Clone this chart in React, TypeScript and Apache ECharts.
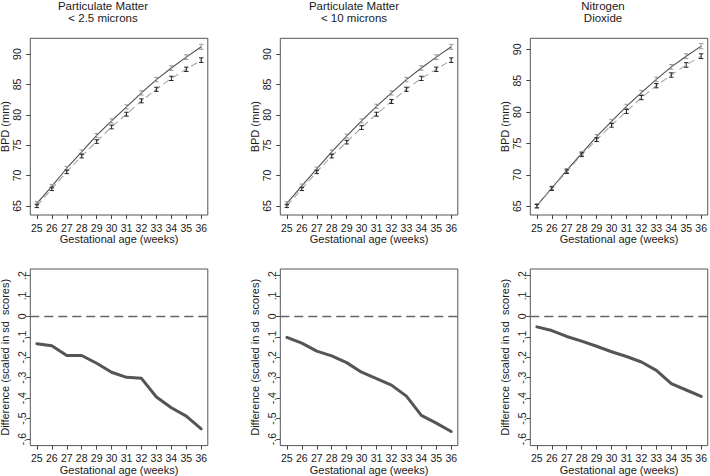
import React, { useEffect, useRef } from "react";
import * as echarts from "echarts";

const weeks = [25, 26, 27, 28, 29, 30, 31, 32, 33, 34, 35, 36];
const bpdTicks = [65, 70, 75, 80, 85, 90];
const diffTicks = [-0.6, -0.5, -0.4, -0.3, -0.2, -0.1, 0, 0.1, 0.2];

const titles = ["Particulate Matter\n< 2.5 microns", "Particulate Matter\n< 10 microns", "Nitrogen\nDioxide"];
const topYName = "BPD (mm)";
const botYName = "Difference (scaled in sd  scores)";
const xName = "Gestational age (weeks)";

const pm25Upper = [65.4, 68.2, 71.2, 73.9, 76.6, 79.0, 81.3, 83.6, 85.8, 87.7, 89.5, 91.2];
const pm25Lower = [65.0, 67.8, 70.6, 73.2, 75.6, 78.0, 80.1, 82.3, 84.2, 86.0, 87.5, 89.0];
const pm10Upper = [65.4, 68.3, 71.1, 73.9, 76.5, 79.0, 81.4, 83.6, 85.8, 87.7, 89.5, 91.2];
const pm10Lower = [65.0, 67.8, 70.6, 73.2, 75.5, 77.9, 80.1, 82.2, 84.2, 86.0, 87.5, 89.0];
const no2Upper = [65.1, 67.9, 70.7, 73.4, 76.1, 78.5, 80.9, 83.1, 85.2, 87.2, 88.9, 90.5];
const no2Lower = [65.0, 67.8, 70.5, 73.2, 75.6, 77.9, 80.1, 82.3, 84.2, 85.9, 87.5, 88.9];
const upperErr = [0.3, 0.3, 0.3, 0.32, 0.32, 0.33, 0.34, 0.35, 0.36, 0.37, 0.39, 0.41];
const lowerErr = [0.28, 0.28, 0.29, 0.3, 0.3, 0.31, 0.32, 0.33, 0.34, 0.35, 0.36, 0.38];

const pm25Diff = [-0.134, -0.144, -0.191, -0.191, -0.229, -0.273, -0.298, -0.303, -0.394, -0.447, -0.488, -0.55];
const pm10Diff = [-0.103, -0.131, -0.17, -0.193, -0.226, -0.273, -0.304, -0.336, -0.39, -0.484, -0.522, -0.563];
const no2Diff = [-0.051, -0.069, -0.098, -0.121, -0.146, -0.173, -0.196, -0.223, -0.264, -0.329, -0.36, -0.391];

const FONT = "'Liberation Sans', Arial, sans-serif";
const TXT = "#1a1a1a";

export default function App() {
  const ref = useRef<HTMLDivElement>(null);
  useEffect(() => {
    if (!ref.current) return;
    const chart = echarts.init(ref.current, null, { renderer: "svg" });

    const panelLeft = [30.3, 280.3, 530.3];
    const panelW = 177.5;
    const topY = 38.3;
    const botY = 269;
    const panelH = 176.7;
    const titleX = [103, 354, 603];
    const xMin = 24.56;
    const xMax = 36.44;
    const topRanges = [
      [63.5, 92.6],
      [63.5, 92.6],
      [63.6, 91.75],
    ];
    const uppers = [pm25Upper, pm10Upper, no2Upper];
    const lowers = [pm25Lower, pm10Lower, no2Lower];
    const diffs = [pm25Diff, pm10Diff, no2Diff];

    const grids: any[] = [];
    const xAxes: any[] = [];
    const yAxes: any[] = [];
    const series: any[] = [];
    const graphic: any[] = [];

    const errRender = (color: string) => (params: any, api: any) => {
      const x = api.value(0);
      const p1 = api.coord([x, api.value(1)]);
      const p2 = api.coord([x, api.value(2)]);
      const w = 2.2;
      const style = { stroke: color, lineWidth: 1 };
      return {
        type: "group",
        children: [
          { type: "line", shape: { x1: p1[0], y1: p1[1], x2: p2[0], y2: p2[1] }, style },
          { type: "line", shape: { x1: p1[0] - w, y1: p1[1], x2: p1[0] + w, y2: p1[1] }, style },
          { type: "line", shape: { x1: p2[0] - w, y1: p2[1], x2: p2[0] + w, y2: p2[1] }, style },
        ],
      };
    };

    const xAxisBase = (gi: number, gap: number, margin: number) => ({
      type: "value",
      gridIndex: gi,
      position: "bottom",
      min: xMin,
      max: xMax,
      name: xName,
      nameLocation: "middle",
      nameGap: gap,
      nameTextStyle: { fontFamily: FONT, fontSize: 11, color: TXT },
      axisLine: { show: false, onZero: false },
      splitLine: { show: false },
      axisTick: { show: true, length: 4, lineStyle: { color: "#444" }, customValues: weeks },
      axisLabel: { fontFamily: FONT, fontSize: 10.5, color: TXT, margin, customValues: weeks, interval: 0 },
    });

    const gridBase = (left: number, top: number) => ({
      left,
      top,
      width: panelW,
      height: panelH,
      show: true,
      borderColor: "#555",
      borderWidth: 1,
      backgroundColor: "transparent",
    });

    const yName = (text: string, x: number, y: number) => ({
      type: "text",
      x,
      y,
      rotation: Math.PI / 2,
      style: {
        text,
        fill: TXT,
        font: `11px ${FONT}`,
        textAlign: "center",
        textVerticalAlign: "middle",
      },
    });

    for (let i = 0; i < 3; i++) {
      // top panel
      const gTop = grids.length;
      grids.push(gridBase(panelLeft[i], topY));
      xAxes.push(xAxisBase(gTop, 18, 7));
      yAxes.push({
        type: "value",
        gridIndex: gTop,
        position: "left",
        min: topRanges[i][0],
        max: topRanges[i][1],
        axisLine: { show: false, onZero: false },
        splitLine: { show: false },
        axisTick: { show: true, length: 4, lineStyle: { color: "#444" }, customValues: bpdTicks },
        axisLabel: { fontFamily: FONT, fontSize: 10.5, color: TXT, margin: 8, rotate: 90, customValues: bpdTicks },
      });
      graphic.push(yName(topYName, panelLeft[i] - 25, topY + panelH / 2));
      series.push({
        type: "line",
        xAxisIndex: gTop,
        yAxisIndex: gTop,
        data: weeks.map((w, k) => [w, uppers[i][k]]),
        showSymbol: false,
        symbol: "none",
        lineStyle: { color: "#4d4d4d", width: 1.1 },
        z: 3,
      });
      series.push({
        type: "line",
        xAxisIndex: gTop,
        yAxisIndex: gTop,
        data: weeks.map((w, k) => [w, lowers[i][k]]),
        showSymbol: false,
        symbol: "none",
        lineStyle: { color: "#a6a6a6", width: 1.1, type: [7, 4] },
        z: 3,
      });
      series.push({
        type: "custom",
        xAxisIndex: gTop,
        yAxisIndex: gTop,
        renderItem: errRender("#9a9a9a"),
        data: weeks.map((w, k) => [w, uppers[i][k] - upperErr[k], uppers[i][k] + upperErr[k]]),
        encode: { x: 0, y: [1, 2] },
        z: 4,
      });
      series.push({
        type: "custom",
        xAxisIndex: gTop,
        yAxisIndex: gTop,
        renderItem: errRender("#222"),
        data: weeks.map((w, k) => [w, lowers[i][k] - lowerErr[k], lowers[i][k] + lowerErr[k]]),
        encode: { x: 0, y: [1, 2] },
        z: 4,
      });

      // bottom panel
      const gBot = grids.length;
      grids.push(gridBase(panelLeft[i], botY));
      xAxes.push(xAxisBase(gBot, 18, 6.5));
      yAxes.push({
        type: "value",
        gridIndex: gBot,
        position: "left",
        min: -0.632,
        max: 0.232,
        axisLine: { show: false, onZero: false },
        splitLine: { show: false },
        axisTick: { show: true, length: 4, lineStyle: { color: "#444" }, customValues: diffTicks },
        axisLabel: {
          fontFamily: FONT,
          fontSize: 10.5,
          color: TXT,
          margin: 3,
          rotate: 90,
          customValues: diffTicks,
          formatter: (v: number) => {
            const r = Math.round(v * 10) / 10;
            if (r === 0) return "0";
            return r.toFixed(1).replace("0.", ".");
          },
        },
      });
      graphic.push(yName(botYName, panelLeft[i] - 25, botY + panelH / 2));
      series.push({
        type: "line",
        xAxisIndex: gBot,
        yAxisIndex: gBot,
        data: [
          [xMin, 0],
          [xMax, 0],
        ],
        showSymbol: false,
        symbol: "none",
        lineStyle: { color: "#666", width: 1.5, type: [9, 5] },
        z: 2,
      });
      series.push({
        type: "line",
        xAxisIndex: gBot,
        yAxisIndex: gBot,
        data: weeks.map((w, k) => [w, diffs[i][k]]),
        showSymbol: false,
        symbol: "none",
        lineStyle: { color: "#555", width: 3, join: "round", cap: "round" },
        z: 3,
      });
    }

    titles.forEach((t, i) =>
      graphic.push({
        type: "text",
        x: titleX[i],
        y: 0.5,
        style: {
          text: t,
          fill: TXT,
          font: `11.5px ${FONT}`,
          textAlign: "center",
          textVerticalAlign: "top",
          lineHeight: 11.4,
        },
      })
    );

    chart.setOption({
      animation: false,
      backgroundColor: "#fff",
      grid: grids,
      xAxis: xAxes,
      yAxis: yAxes,
      series,
      graphic,
    });
    return () => chart.dispose();
  }, []);
  return <div ref={ref} style={{ position: "absolute", left: 0, top: 0, width: 710, height: 476 }} />;
}
